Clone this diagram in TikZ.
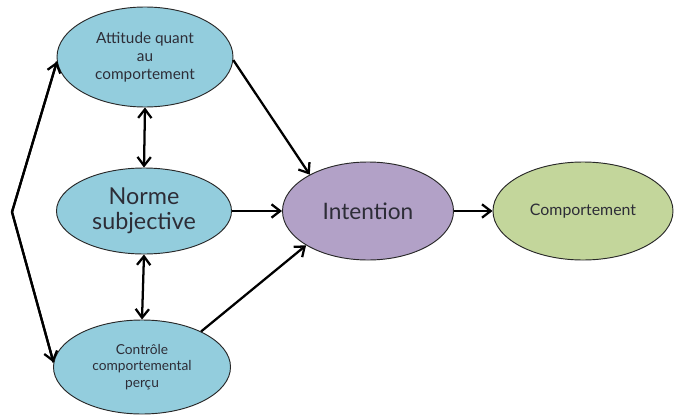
\documentclass[tikz,border=0pt]{standalone}
\usepackage{fontspec}
\setmainfont{Lato}
\usetikzlibrary{shapes.geometric,arrows.meta}
\definecolor{bluefill}{RGB}{147,205,221}
\definecolor{purplefill}{RGB}{178,161,199}
\definecolor{greenfill}{RGB}{195,214,155}
\definecolor{rimcol}{RGB}{40,40,40}
\definecolor{txtcol}{RGB}{45,45,55}
\begin{document}
\begin{tikzpicture}[x=0.75pt,y=-0.75pt,
  bubble/.style={ellipse,draw=rimcol,line width=0.7pt,inner sep=0pt,align=center,text=txtcol},
  tip/.style={Straight Barb[length=6.5pt,width=10pt,line width=1.7pt]},
  link/.style={line width=1.7pt,-{Straight Barb[length=6.5pt,width=10pt,line width=1.7pt]}},
  duallink/.style={line width=1.7pt,{Straight Barb[length=6.5pt,width=10pt,line width=1.7pt]}-{Straight Barb[length=6.5pt,width=10pt,line width=1.7pt]}},
  plain/.style={line width=1.7pt,line join=miter}]
\useasboundingbox (0,0) rectangle (674,414);
\fill[white] (0,0) rectangle (674,414);

\node[bubble,fill=bluefill,minimum width=132pt,minimum height=75pt,
      font=\fontsize{11.5}{13.5}\selectfont] (att) at (145,57) {Attitude quant\\au\\comportement};
\node[bubble,fill=bluefill,minimum width=131.25pt,minimum height=64.5pt,
      font=\fontsize{17.5}{19}\selectfont] (nor) at (144,211) {Norme\\subjective};
\node[bubble,fill=bluefill,minimum width=132.75pt,minimum height=70.5pt,
      font=\fontsize{10.3}{12.3}\selectfont] (ctl) at (142,367) {Contrôle\\comportemental\\perçu};
\node[bubble,fill=purplefill,minimum width=128.25pt,minimum height=73.5pt,
      font=\fontsize{17}{19}\selectfont] (int) at (368,211) {Intention};
\node[bubble,fill=greenfill,minimum width=135pt,minimum height=73.5pt,
      font=\fontsize{11.9}{14}\selectfont] (cmp) at (583,211) {Comportement};

\coordinate (lc) at (12,212);
\draw[plain] (att.183) -- (lc) -- (ctl.177);
\draw[link] (lc) -- (att.183);
\draw[link] (lc) -- (ctl.177);

\draw[link] (att.-2) -- (int.148);
\draw[link] (nor.east) -- (int.west);
\draw[link] (ctl.31) -- (int.209);
\draw[link] (int.east) -- (cmp.west);
\draw[duallink] (att.south) -- (nor.north);
\draw[duallink] (nor.south) -- (ctl.north);
\end{tikzpicture}
\end{document}
